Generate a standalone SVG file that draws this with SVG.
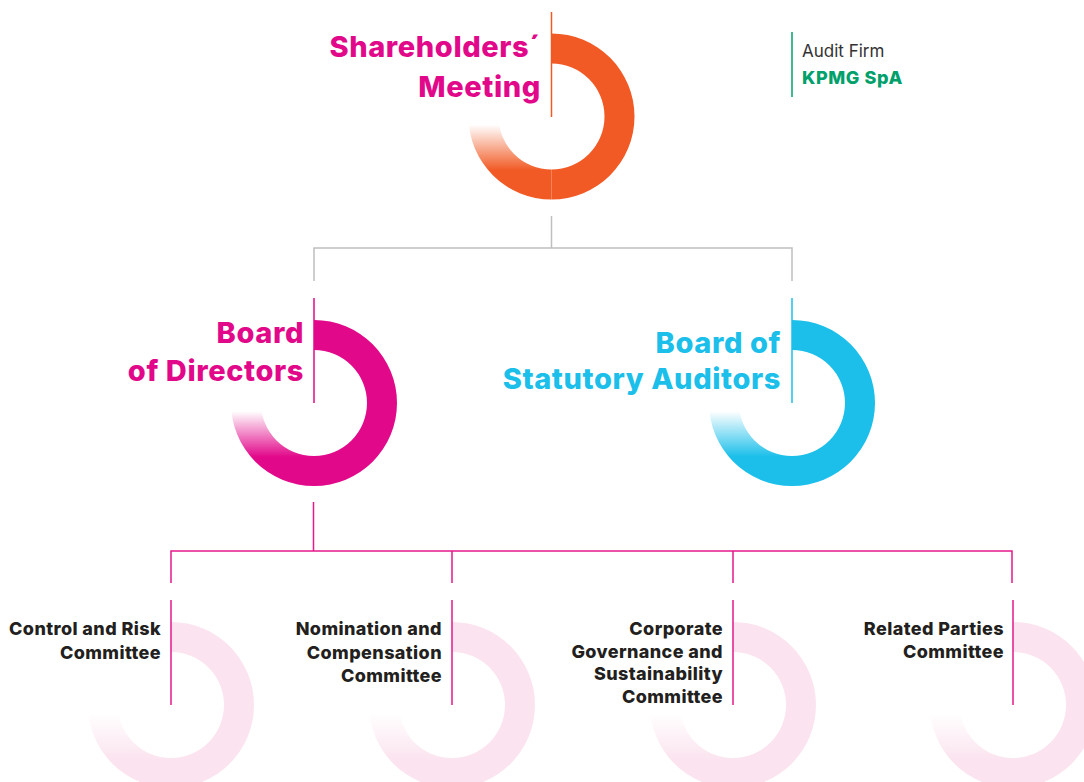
<svg xmlns="http://www.w3.org/2000/svg" xmlns:xlink="http://www.w3.org/1999/xlink" width="1084" height="782" viewBox="0 0 1084 782">
<style>
.t30{font-family:Inter,"Liberation Sans",Arial,sans-serif;font-weight:800;font-size:29px;letter-spacing:0.6px;text-anchor:end}
.t18{font-family:Inter,"Liberation Sans",Arial,sans-serif;font-weight:800;font-size:18px;letter-spacing:0.4px;text-anchor:end;fill:#231F20}
.mag{fill:#E2088A}
.cya{fill:#1BBFEA}
.gray{fill:none;stroke:#BFBFBF;stroke-width:1.5}
.pk{fill:none;stroke:#E5198A;stroke-width:1.5}
</style>
<defs>
<linearGradient id="gO" x1="0" y1="0" x2="0" y2="1"><stop offset="0.1" stop-color="#F15A24" stop-opacity="0"/><stop offset="0.65" stop-color="#F15A24"/></linearGradient>
<linearGradient id="gM" x1="0" y1="0" x2="0" y2="1"><stop offset="0.1" stop-color="#E2088A" stop-opacity="0"/><stop offset="0.65" stop-color="#E2088A"/></linearGradient>
<linearGradient id="gC" x1="0" y1="0" x2="0" y2="1"><stop offset="0.1" stop-color="#1BBFEA" stop-opacity="0"/><stop offset="0.65" stop-color="#1BBFEA"/></linearGradient>
<linearGradient id="gP" x1="0" y1="0" x2="0" y2="1"><stop offset="0.1" stop-color="#FBE4EF" stop-opacity="0"/><stop offset="0.65" stop-color="#FBE4EF"/></linearGradient>
<path id="solid" d="M0,-83 A83,83 0 0 1 83,0 A83,83 0 0 1 0,83 L0,53 A53,53 0 0 0 53,0 A53,53 0 0 0 0,-53 Z"/>
<path id="fade" d="M0,83 A83,83 0 0 1 -83,0 L-53,0 A53,53 0 0 0 0,53 Z"/>
</defs>

<g id="connectors">
<path class="gray" d="M551.5,216 V248 M314,248 H792 M314,247.25 V281 M792,247.25 V281"/>
<path class="pk" d="M313.5,502 V551 M171,551 H1012 M171,550.25 V583 M452,551 V583 M733,551 V583 M1012,550.25 V583"/>
</g>

<g id="shareholders">
<use xlink:href="#solid" transform="translate(551.5,116.5)" fill="#F15A24"/>
<use xlink:href="#fade" transform="translate(551.5,116.5)" fill="url(#gO)"/>
<line x1="551.5" y1="12" x2="551.5" y2="117" stroke="#F15A24" stroke-width="1.5"/>
<text class="t30 mag" x="541" y="57">Shareholders´</text>
<text class="t30 mag" x="541" y="97">Meeting</text>
</g>

<g id="audit-firm">
<line x1="792" y1="32" x2="792" y2="97" stroke="#00A06B" stroke-width="1.5"/>
<text x="802" y="57" font-family="Inter, Liberation Sans, Arial, sans-serif" font-size="17" fill="#333333">Audit Firm</text>
<text x="802" y="84" font-family="Inter, Liberation Sans, Arial, sans-serif" font-size="18" font-weight="800" letter-spacing="0.6" fill="#00A06B">KPMG SpA</text>
</g>

<g id="board-of-directors">
<use xlink:href="#solid" transform="translate(314,403)" fill="#E2088A"/>
<use xlink:href="#fade" transform="translate(314,403)" fill="url(#gM)"/>
<line x1="314" y1="298" x2="314" y2="403" stroke="#E2088A" stroke-width="1.5"/>
<text class="t30 mag" x="304" y="343">Board</text>
<text class="t30 mag" x="304" y="381">of Directors</text>
</g>

<g id="board-of-statutory-auditors">
<use xlink:href="#solid" transform="translate(792,403)" fill="#1BBFEA"/>
<use xlink:href="#fade" transform="translate(792,403)" fill="url(#gC)"/>
<line x1="792" y1="298" x2="792" y2="403" stroke="#1BBFEA" stroke-width="1.5"/>
<text class="t30 cya" x="781" y="353">Board of</text>
<text class="t30 cya" x="781" y="389">Statutory Auditors</text>
</g>

<g id="control-risk">
<use xlink:href="#solid" transform="translate(171,705)" fill="#FBE4EF"/>
<use xlink:href="#fade" transform="translate(171,705)" fill="url(#gP)"/>
<line x1="171" y1="600" x2="171" y2="705" stroke="#E5198A" stroke-width="1.5"/>
<text class="t18" x="161" y="635">Control and Risk</text>
<text class="t18" x="161" y="659">Committee</text>
</g>

<g id="nomination-compensation">
<use xlink:href="#solid" transform="translate(452,705)" fill="#FBE4EF"/>
<use xlink:href="#fade" transform="translate(452,705)" fill="url(#gP)"/>
<line x1="452" y1="600" x2="452" y2="705" stroke="#E5198A" stroke-width="1.5"/>
<text class="t18" x="442" y="635">Nomination and</text>
<text class="t18" x="442" y="659">Compensation</text>
<text class="t18" x="442" y="682">Committee</text>
</g>

<g id="corporate-governance">
<use xlink:href="#solid" transform="translate(733,705)" fill="#FBE4EF"/>
<use xlink:href="#fade" transform="translate(733,705)" fill="url(#gP)"/>
<line x1="733" y1="600" x2="733" y2="705" stroke="#E5198A" stroke-width="1.5"/>
<text class="t18" x="723" y="635">Corporate</text>
<text class="t18" x="723" y="658">Governance and</text>
<text class="t18" x="723" y="680">Sustainability</text>
<text class="t18" x="723" y="703">Committee</text>
</g>

<g id="related-parties">
<use xlink:href="#solid" transform="translate(1013,705)" fill="#FBE4EF"/>
<use xlink:href="#fade" transform="translate(1013,705)" fill="url(#gP)"/>
<line x1="1013" y1="600" x2="1013" y2="705" stroke="#E5198A" stroke-width="1.5"/>
<text class="t18" x="1004" y="635">Related Parties</text>
<text class="t18" x="1004" y="658">Committee</text>
</g>
</svg>
